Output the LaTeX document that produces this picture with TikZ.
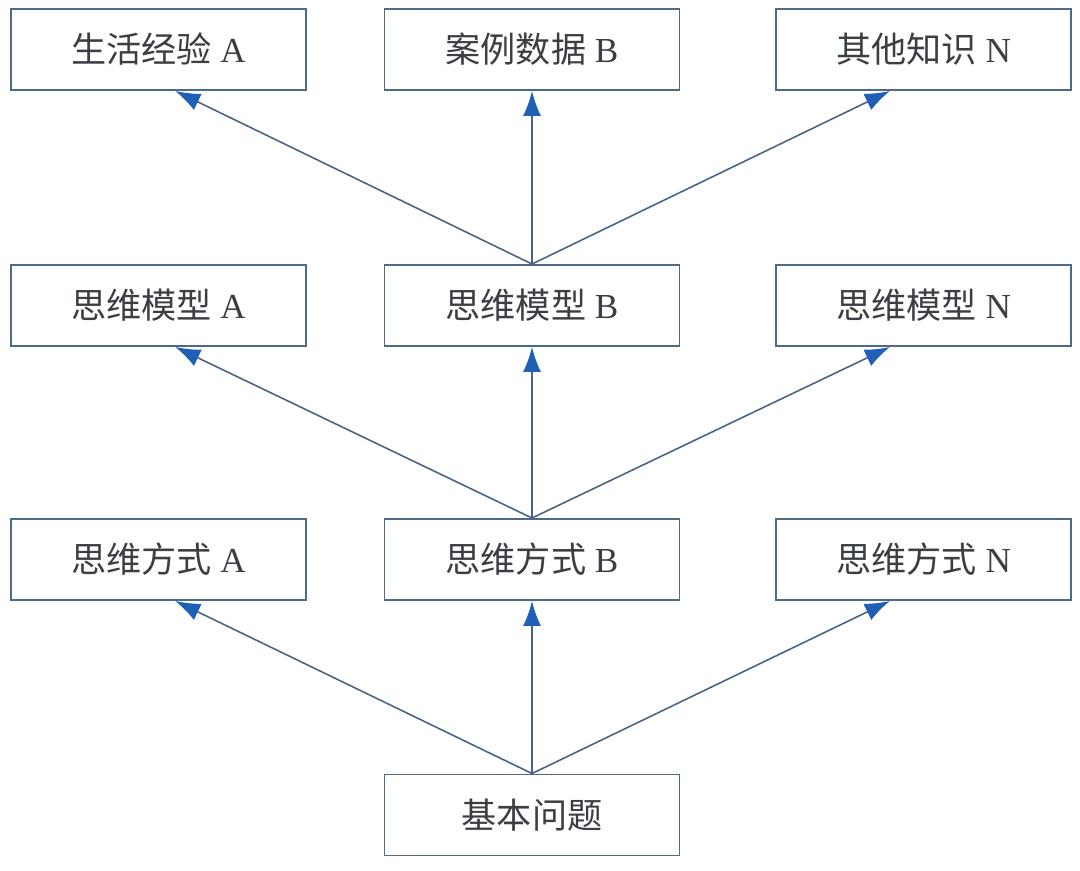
\documentclass[tikz,border=0pt]{standalone}
\usepackage{fontspec}
\setmainfont{Liberation Serif}
\newfontfamily\cjk{Noto Sans CJK SC}
\usepackage{tikz}
\usetikzlibrary{arrows.meta}
\definecolor{boxline}{HTML}{4D6A86}
\definecolor{arrline}{HTML}{4A6385}
\definecolor{arrhead}{HTML}{1F5FB5}
\definecolor{txtgray}{HTML}{3A3F45}
\tikzset{
  mbox/.style={draw=boxline,line width=1.1pt,fill=white,
    minimum width=5.9cm,minimum height=1.62cm,
    font=\fontsize{20}{22}\selectfont,text=txtgray},
  uparr/.style={draw=arrline,line width=0.9pt,
    -{Latex[length=5mm,width=3.6mm,color=arrhead]}}
}
\newcommand{\zh}[1]{{\cjk #1}}

\begin{document}
\begin{tikzpicture}
  \useasboundingbox (0,0) rectangle (21.6,17.4);
  % top row
  \node[mbox] (expA) at (3.17,16.41) {\zh{生活经验}\ A};
  \node[mbox] (caseB) at (10.64,16.41) {\zh{案例数据}\ B};
  \node[mbox] (knowN) at (18.47,16.41) {\zh{其他知识}\ N};
  % models
  \node[mbox] (modA) at (3.17,11.29) {\zh{思维模型}\ A};
  \node[mbox] (modB) at (10.64,11.29) {\zh{思维模型}\ B};
  \node[mbox] (modN) at (18.47,11.29) {\zh{思维模型}\ N};
  % ways
  \node[mbox] (wayA) at (3.17,6.21) {\zh{思维方式}\ A};
  \node[mbox] (wayB) at (10.64,6.21) {\zh{思维方式}\ B};
  \node[mbox] (wayN) at (18.47,6.21) {\zh{思维方式}\ N};
  % base
  \node[mbox] (base) at (10.64,1.10) {\zh{基本问题}};

  \draw[uparr] (base.north) -- (wayA.-68);
  \draw[uparr] (base.north) -- (wayB.south);
  \draw[uparr] (base.north) -- (wayN.-129);
  \draw[uparr] (wayB.north) -- (modA.-68);
  \draw[uparr] (wayB.north) -- (modB.south);
  \draw[uparr] (wayB.north) -- (modN.-129);
  \draw[uparr] (modB.north) -- (expA.-68);
  \draw[uparr] (modB.north) -- (caseB.south);
  \draw[uparr] (modB.north) -- (knowN.-129);
\end{tikzpicture}
\end{document}
